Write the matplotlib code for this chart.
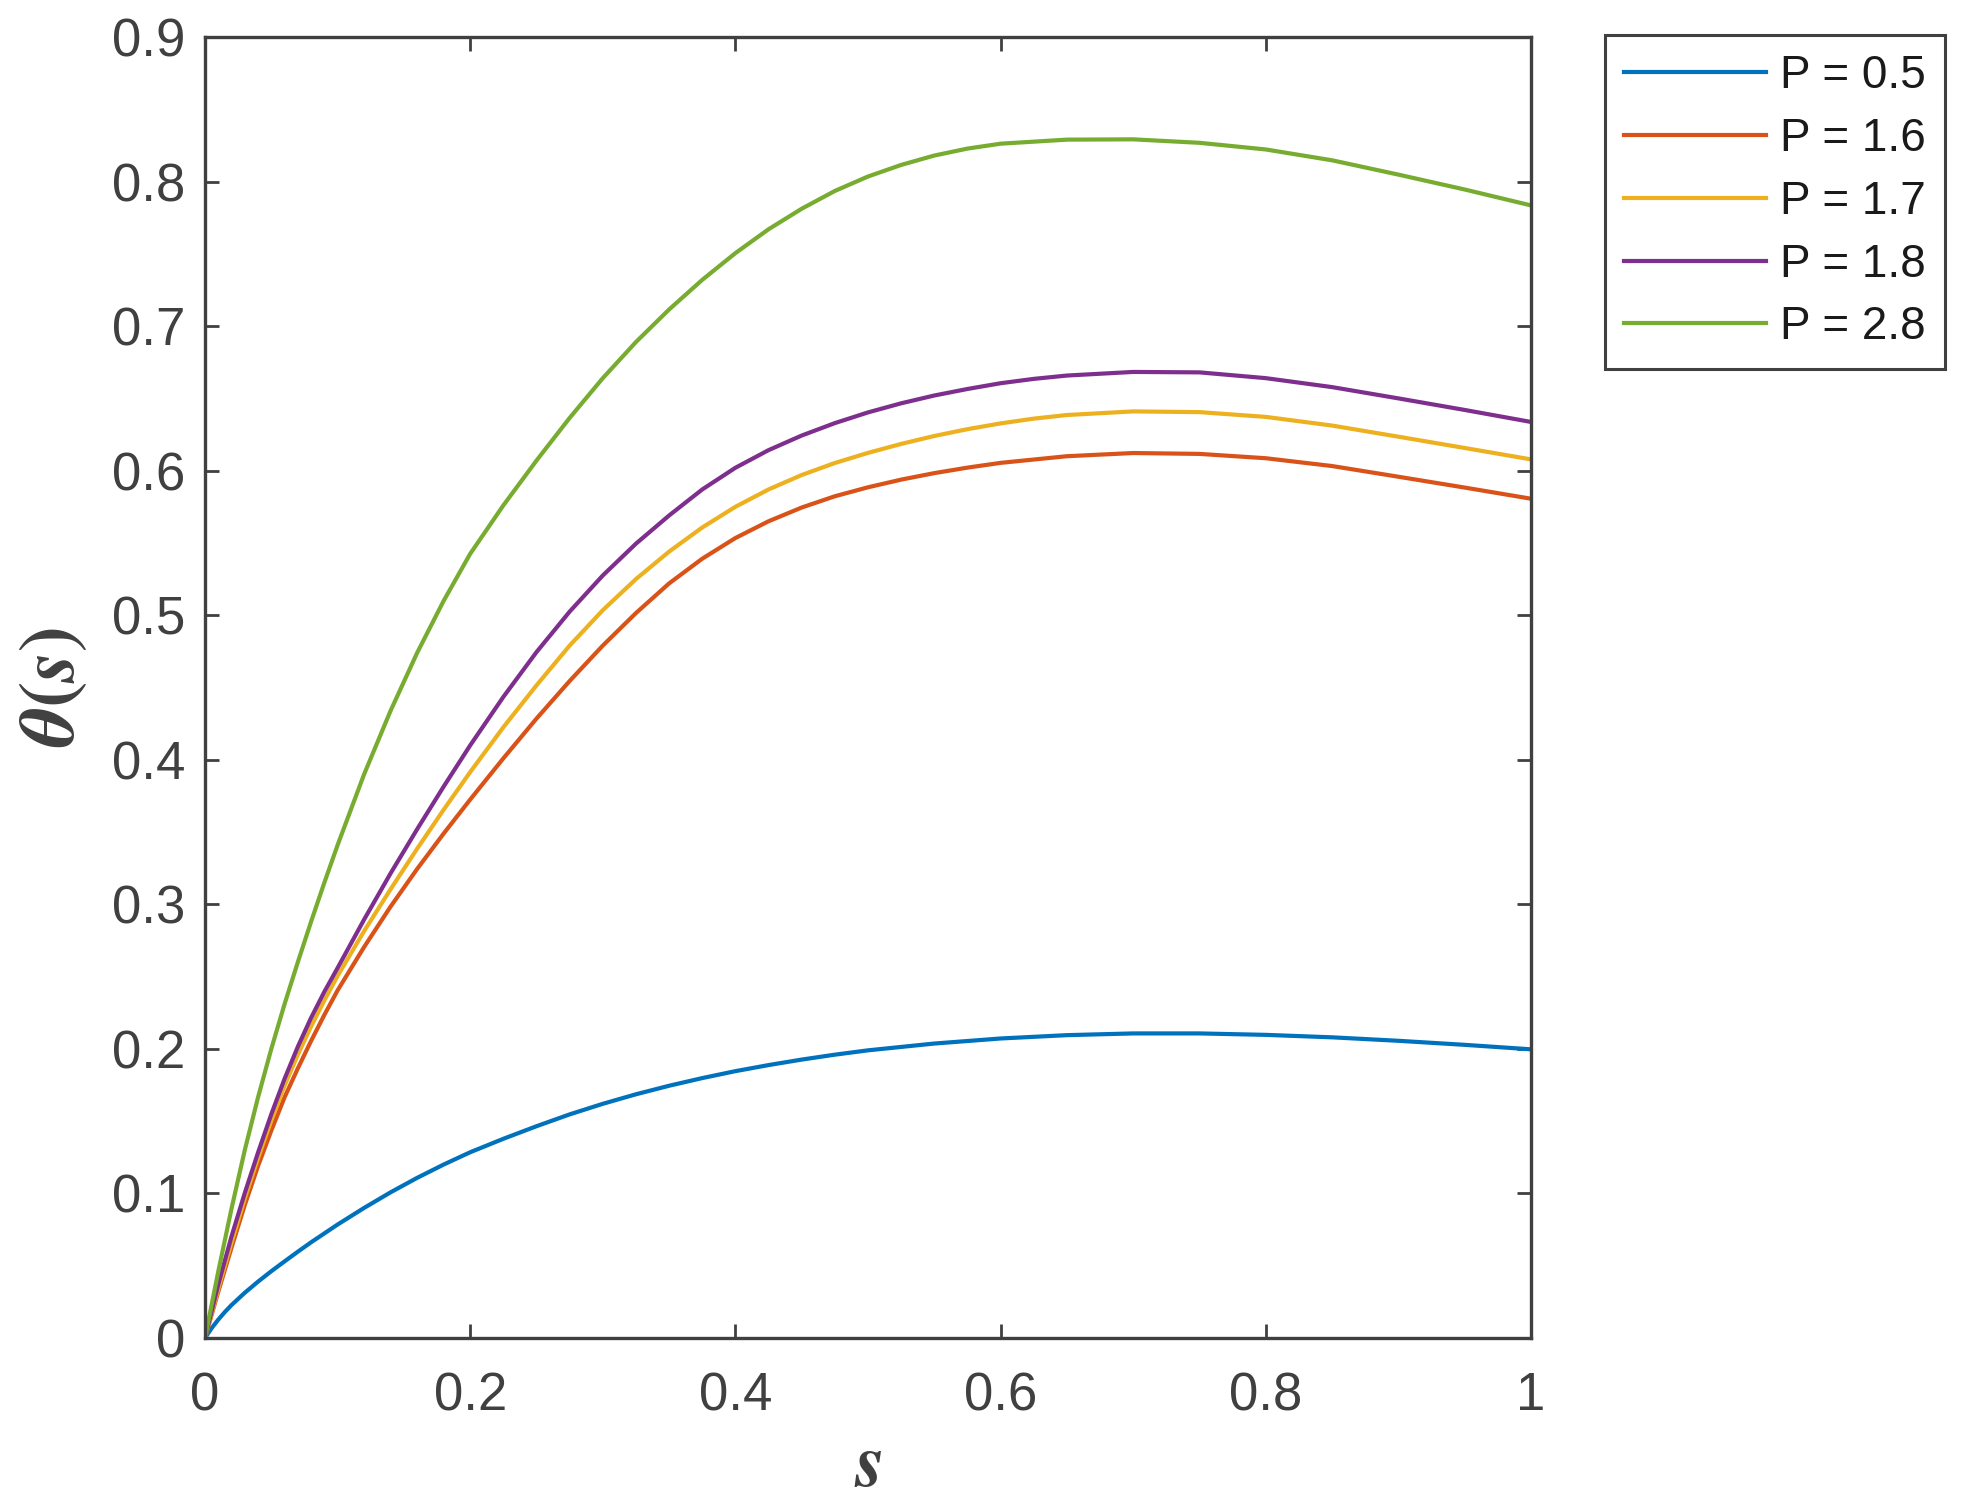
import matplotlib
matplotlib.use("Agg")
import matplotlib.pyplot as plt

# ---- data ----
labels = ["P = 0.5", "P = 1.6", "P = 1.7", "P = 1.8", "P = 2.8"]
colors = ["#0072BD", "#D95319", "#EDB120", "#7E2F8E", "#77AC30"]

s_p05 = [0, 0.005, 0.01, 0.015, 0.02, 0.03, 0.04, 0.05, 0.06, 0.07, 0.08, 0.1, 0.12, 0.14,
         0.16, 0.18, 0.2, 0.225, 0.25, 0.275, 0.3, 0.325, 0.35, 0.375, 0.4, 0.425, 0.45,
         0.475, 0.5, 0.55, 0.6, 0.65, 0.7, 0.75, 0.8, 0.85, 0.9, 0.95, 1.0]
th_p05 = [0, 0.0068, 0.0127, 0.0180, 0.0228, 0.0313, 0.0390, 0.0462, 0.0530, 0.0597, 0.0662,
          0.0785, 0.0900, 0.1008, 0.1108, 0.1200, 0.1285, 0.1378, 0.1465, 0.1547, 0.1620,
          0.1686, 0.1745, 0.1798, 0.1846, 0.1888, 0.1926, 0.1960, 0.1990, 0.2037, 0.2072,
          0.2095, 0.2107, 0.2107, 0.2097, 0.2080, 0.2056, 0.2028, 0.1997]

s_p16 = [0, 0.01, 0.02, 0.03, 0.04, 0.05, 0.06, 0.07, 0.08, 0.09, 0.1, 0.12, 0.14, 0.16,
         0.18, 0.2, 0.225, 0.25, 0.275, 0.3, 0.325, 0.35, 0.375, 0.4, 0.425, 0.45, 0.475,
         0.5, 0.525, 0.55, 0.575, 0.6, 0.65, 0.7, 0.75, 0.8, 0.85, 0.9, 0.95, 1.0]
th_p16 = [0, 0.032, 0.0625, 0.092, 0.119, 0.1435, 0.1665, 0.1865, 0.2055, 0.2235, 0.2405,
          0.2705, 0.2985, 0.3245, 0.349, 0.3725, 0.401, 0.4285, 0.4545, 0.479, 0.5015,
          0.522, 0.5391, 0.5534, 0.5650, 0.5745, 0.5823, 0.5885, 0.5938, 0.5983, 0.6021,
          0.6054, 0.6100, 0.6122, 0.6116, 0.6086, 0.6032, 0.5958, 0.5883, 0.5806]

s_p17 = [0, 0.01, 0.02, 0.03, 0.04, 0.05, 0.06, 0.07, 0.08, 0.09, 0.1, 0.12, 0.14, 0.16,
         0.18, 0.2, 0.225, 0.25, 0.275, 0.3, 0.325, 0.35, 0.375, 0.4, 0.425, 0.45, 0.475,
         0.5, 0.525, 0.55, 0.575, 0.6, 0.625, 0.65, 0.7, 0.75, 0.8, 0.85, 0.9, 0.95, 1.0]
th_p17 = [0, 0.034, 0.066, 0.0965, 0.1245, 0.1505, 0.1745, 0.1960, 0.2155, 0.2335, 0.2505,
          0.2815, 0.3105, 0.3385, 0.3655, 0.3915, 0.4225, 0.4515, 0.479, 0.5035, 0.5250,
          0.5440, 0.5607, 0.5750, 0.5870, 0.5970, 0.6053, 0.6123, 0.6185, 0.6240, 0.6287,
          0.6327, 0.6360, 0.6385, 0.6410, 0.6405, 0.6372, 0.6312, 0.6235, 0.6157, 0.6078]

s_p18 = [0, 0.01, 0.02, 0.03, 0.04, 0.05, 0.06, 0.07, 0.08, 0.09, 0.1, 0.12, 0.14, 0.16,
         0.18, 0.2, 0.225, 0.25, 0.275, 0.3, 0.325, 0.35, 0.375, 0.4, 0.425, 0.45, 0.475,
         0.5, 0.525, 0.55, 0.575, 0.6, 0.625, 0.65, 0.7, 0.75, 0.8, 0.85, 0.9, 0.95, 1.0]
th_p18 = [0, 0.037, 0.0703, 0.1003, 0.1283, 0.1548, 0.1793, 0.2015, 0.2215, 0.2395, 0.2560,
          0.2895, 0.3215, 0.3520, 0.3815, 0.4100, 0.4435, 0.4745, 0.5025, 0.5275, 0.5495,
          0.5690, 0.5870, 0.6020, 0.6142, 0.6243, 0.6329, 0.6403, 0.6466, 0.6520, 0.6565,
          0.6605, 0.6635, 0.6658, 0.6683, 0.6680, 0.6640, 0.6578, 0.6500, 0.6420, 0.6337]

s_p28 = [0, 0.01, 0.02, 0.03, 0.04, 0.05, 0.06, 0.07, 0.08, 0.09, 0.1, 0.12, 0.14, 0.16,
         0.18, 0.2, 0.225, 0.25, 0.275, 0.3, 0.325, 0.35, 0.375, 0.4, 0.425, 0.45, 0.475,
         0.5, 0.525, 0.55, 0.575, 0.6, 0.65, 0.7, 0.75, 0.8, 0.85, 0.9, 0.95, 1.0]
th_p28 = [0, 0.046, 0.0895, 0.130, 0.1665, 0.200, 0.231, 0.260, 0.288, 0.315, 0.341, 0.390,
          0.434, 0.474, 0.510, 0.5425, 0.576, 0.607, 0.6365, 0.664, 0.689, 0.7115, 0.732,
          0.7505, 0.767, 0.7812, 0.7935, 0.8035, 0.8115, 0.818, 0.8228, 0.8262, 0.8290,
          0.8292, 0.8268, 0.8222, 0.8147, 0.8048, 0.7945, 0.7835]

xticks = [0, 0.2, 0.4, 0.6, 0.8, 1]
xticklabels = ["0", "0.2", "0.4", "0.6", "0.8", "1"]
yticks = [0, 0.1, 0.2, 0.3, 0.4, 0.5, 0.6, 0.7, 0.8, 0.9]
yticklabels = ["0", "0.1", "0.2", "0.3", "0.4", "0.5", "0.6", "0.7", "0.8", "0.9"]

# ---- figure ----
plt.rcParams["font.family"] = ["Liberation Sans", "DejaVu Sans"]
plt.rcParams["mathtext.fontset"] = "stix"

DPI = 200
fig = plt.figure(figsize=(1974 / DPI, 1508 / DPI), dpi=DPI)
L, R, B, T = 205 / 1974, 1531 / 1974, 1 - 1338 / 1508, 1 - 37 / 1508
ax = fig.add_axes([L, B, R - L, T - B])

gray = "#404040"
series = [(s_p05, th_p05), (s_p16, th_p16), (s_p17, th_p17), (s_p18, th_p18), (s_p28, th_p28)]
for (sx, ty), c, lab in zip(series, colors, labels):
    ax.plot(sx, ty, color=c, lw=1.5, label=lab, solid_joinstyle="round")

ax.set_xlim(0, 1)
ax.set_ylim(0, 0.9)
ax.set_xticks(xticks)
ax.set_xticklabels(xticklabels)
ax.set_yticks(yticks)
ax.set_yticklabels(yticklabels)
ax.tick_params(direction="in", length=5, width=1.0, colors=gray, labelsize=19,
               top=True, right=True)
ax.tick_params(axis="x", pad=12)
ax.tick_params(axis="y", pad=7)
for sp in ax.spines.values():
    sp.set_color(gray)
    sp.set_linewidth(1.2)

ax.set_xlabel(r"$\mathbfit{s}$", fontsize=27, color=gray, va="center")
ax.xaxis.set_label_coords(0.5, -0.099)
ax.set_ylabel(r"$\mathbfit{\theta}\mathbf{(}\mathbfit{s}\mathbf{)}$", fontsize=28, color=gray,
              va="center", ha="center")
ax.yaxis.set_label_coords(-0.1146, 0.5)

leg = fig.legend(loc="upper left", bbox_to_anchor=(1605 / 1974, 1 - 35 / 1508),
                 borderaxespad=0, fontsize=16.5, handlelength=3.1, handletextpad=0.3,
                 labelspacing=0.41, borderpad=0.42, fancybox=False, framealpha=1)
leg.get_frame().set_edgecolor(gray)
leg.get_frame().set_linewidth(1.1)
for t in leg.get_texts():
    t.set_color("#1a1a1a")

fig.savefig("out.png", dpi=DPI, facecolor="white")
